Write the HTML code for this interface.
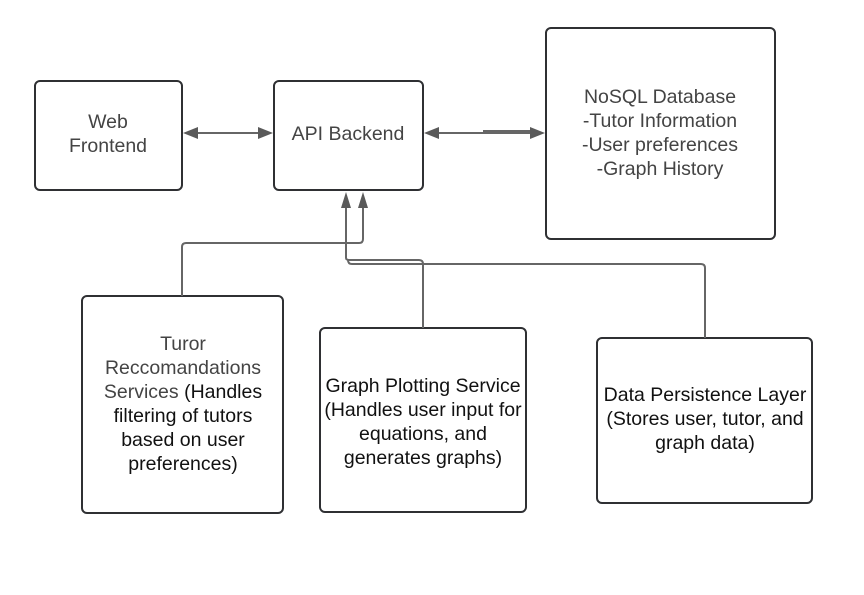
<!DOCTYPE html>
<html><head><meta charset="utf-8"><style>
html,body{margin:0;padding:0;background:#fff;}
svg text{font-family:"Liberation Sans",sans-serif;font-size:19.5px;text-anchor:middle;}
</style></head><body>
<svg width="864" height="590" viewBox="0 0 864 590" xmlns="http://www.w3.org/2000/svg">
<g fill="none" stroke="#2f3033" stroke-width="2">
<rect x="35" y="81" width="147" height="109" rx="5"/>
<rect x="274" y="81" width="149" height="109" rx="5"/>
<rect x="546" y="28" width="229" height="211" rx="5"/>
<rect x="82" y="296" width="201" height="217" rx="5"/>
<rect x="320" y="328" width="206" height="184" rx="5"/>
<rect x="597" y="338" width="215" height="165" rx="5"/>
</g>
<g fill="none" stroke="#666" stroke-width="2">
<line x1="197" y1="133" x2="260" y2="133"/>
<line x1="438" y1="133" x2="532" y2="133"/>
<line x1="483" y1="131" x2="530" y2="131"/>
<path d="M182 296 V247 Q182 243 186 243 H359 Q363 243 363 239 V206"/>
<path d="M346 206 V258 Q346 260 350 260 H419 Q423 260 423 264 V328"/>
<path d="M348 260 Q348 264 352 264 H701 Q705 264 705 268 V338"/>
</g>
<g fill="#5a5a5a">
<polygon points="183,133 198,127 198,139"/>
<polygon points="273,133 258,127 258,139"/>
<polygon points="424,133 439,127 439,139"/>
<polygon points="545,133 530,127 530,139"/>
<polygon points="346,192 341,208 351,208"/>
<polygon points="363,192 358,208 368,208"/>
</g>
<g fill="#444">
<text x="108" y="128">Web</text>
<text x="108" y="152">Frontend</text>
<text x="348" y="140">API Backend</text>
<text x="660" y="103">NoSQL Database</text>
<text x="660" y="127">-Tutor Information</text>
<text x="660" y="151">-User preferences</text>
<text x="660" y="175">-Graph History</text>
<text x="183" y="350">Turor</text>
<text x="183" y="374">Reccomandations</text>
</g>
<g fill="#111">
<text x="183" y="398"><tspan fill="#444">Services</tspan> (Handles</text>
<text x="183" y="422">filtering of tutors</text>
<text x="183" y="446">based on user</text>
<text x="183" y="470">preferences)</text>
<text x="423" y="392">Graph Plotting Service</text>
<text x="423" y="416">(Handles user input for</text>
<text x="423" y="440">equations, and</text>
<text x="423" y="464">generates graphs)</text>
<text x="705" y="401">Data Persistence Layer</text>
<text x="705" y="425">(Stores user, tutor, and</text>
<text x="705" y="449">graph data)</text>
</g>
</svg>
</body></html>
